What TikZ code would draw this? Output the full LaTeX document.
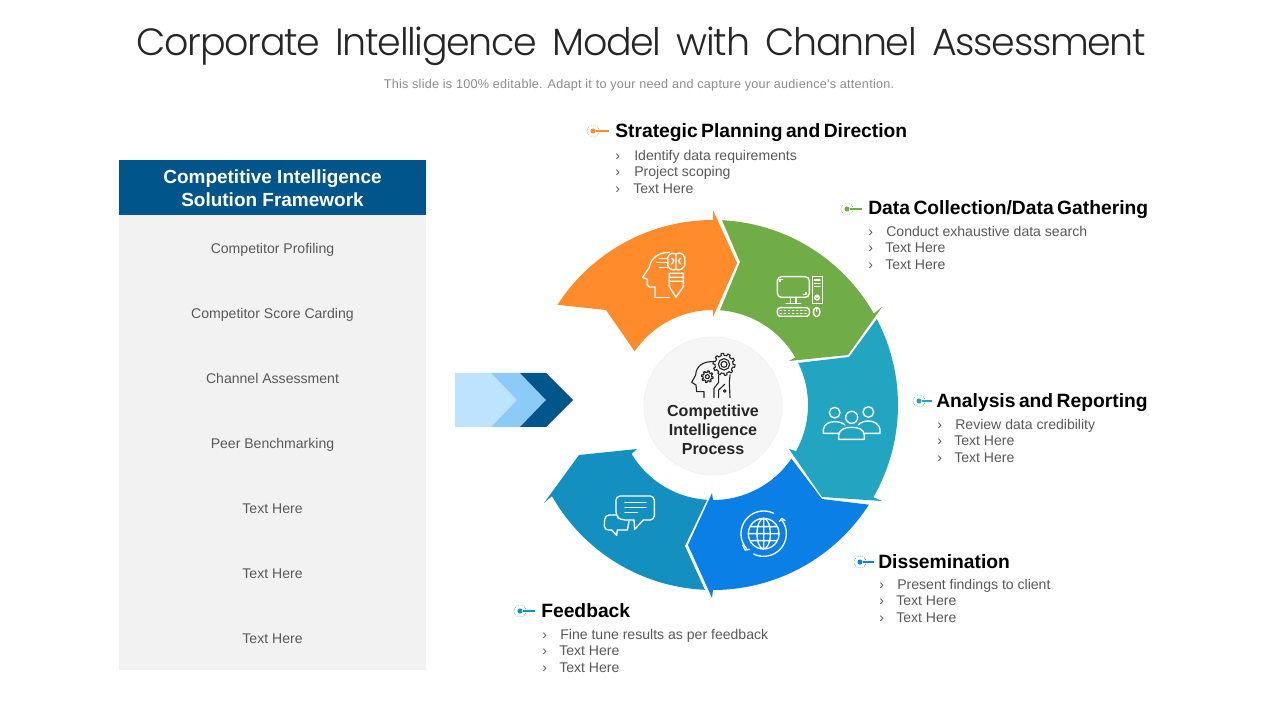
\documentclass[tikz,border=0pt]{standalone}
\usepackage{fontspec}
\usepackage{xcolor}
\usetikzlibrary{calc}
\setmainfont{Liberation Sans}
\newfontfamily\headfont{Poppins}[UprightFont=* Light,LetterSpace=-3.5,WordSpace=1.7]
\newfontfamily\subfont{Liberation Sans}[LetterSpace=1.9]
\newfontfamily\labfont{Liberation Sans}[WordSpace=0.65]
\definecolor{ink}{HTML}{262626}
\definecolor{muted}{HTML}{595959}
\definecolor{faint}{HTML}{8C8C8C}
\definecolor{navy}{HTML}{00558A}
\definecolor{panel}{HTML}{F2F2F2}
\definecolor{chevA}{HTML}{BDE3FF}
\definecolor{chevB}{HTML}{8CCBF8}
\definecolor{orangeseg}{HTML}{FF8B2B}
\definecolor{greenseg}{HTML}{70AD47}
\definecolor{tealseg}{HTML}{21A5C0}
\definecolor{blueseg}{HTML}{0A7FE6}
\definecolor{feedseg}{HTML}{1490C0}
\tikzset{
  lab/.style={anchor=base west, text=black, font=\fontsize{13.7}{16}\labfont\bfseries, inner sep=0pt},
  itm/.style={anchor=base west, text=muted, font=\fontsize{10}{12}\selectfont, inner sep=0pt},
  row/.style={anchor=base, text=muted, font=\fontsize{10}{12}\selectfont, inner sep=0pt},
  ico/.style={draw=white, line width=0.95pt, line cap=round, line join=round},
  icd/.style={draw=ink, line width=0.8pt, line cap=round, line join=round},
  dotc/.style={circle, minimum size=3.6pt, inner sep=0pt},
  ringc/.style={circle, densely dotted, line width=0.45pt, minimum size=8.5pt, inner sep=0pt},
}
\begin{document}
\begin{tikzpicture}[x=0.025cm,y=-0.025cm]
  \useasboundingbox (0,0) rectangle (1280,720);
  \def\Ro{185}
  \def\Ri{95}
  % heading
  \node[anchor=base, text=ink, font=\fontsize{27}{32}\headfont, inner sep=0pt] (title) at (641.5,56) {Corporate Intelligence Model with Channel Assessment};
  \node[text=faint, font=\fontsize{9}{10}\subfont, inner sep=0pt] (subtitle) at (639,85.5) {This slide is 100\% editable. Adapt it to your need and capture your audience's attention.};
  % left panel
  \fill[panel] (119,215) rectangle (426,670);
  \fill[navy] (119,160) rectangle (426,215);
  \node[text=white, align=center, font=\fontsize{13.5}{16.4}\selectfont\bfseries, inner sep=0pt] (frame) at (272.5,188.3) {Competitive Intelligence\\Solution Framework};
  \foreach \y/\t/\n in {253.6/Competitor Profiling/a,318.6/Competitor Score Carding/b,383.6/Channel Assessment/c,448.6/Peer Benchmarking/d,513.6/Text Here/e,578.6/Text Here/f,643.6/Text Here/g}
    \node[row] (row\n) at (272.5,\y) {\t};
  % chevrons
  \fill[chevA] (455,373) -- (491,373) -- (517,400) -- (491,427) -- (455,427) -- cycle;
  \fill[chevB] (491,373) -- (520,373) -- (546,400) -- (520,427) -- (491,427) -- (517,400) -- cycle;
  \fill[navy] (520,373) -- (546,373) -- (573,400) -- (546,427) -- (520,427) -- (546,400) -- cycle;
  % ring
  \fill[orangeseg] plot[domain=212.8:270,samples=40] ({713+\Ro*cos(\x)},{405+\Ro*sin(\x)}) -- (713,210) -- (737,263) -- (713,317) -- (713,310)
    -- plot[domain=270:214.4,samples=40] ({713+\Ri*cos(\x)},{405+\Ri*sin(\x)}) -- (606,310) -- cycle;
  \fill[greenseg] plot[domain=272.8:330.4,samples=40] ({713+\Ro*cos(\x)},{405+\Ro*sin(\x)}) -- (882,307) -- (848,355) -- (789,361)
    -- plot[domain=330:274.2,samples=40] ({713+\Ri*cos(\x)},{405+\Ri*sin(\x)}) -- (740,262) -- cycle;
  \fill[tealseg] plot[domain=-27.7:29.9,samples=40] ({713+\Ro*cos(\x)},{405+\Ro*sin(\x)}) -- (882,501) -- (822,497) -- (789,449)
    -- plot[domain=29:-26.3,samples=40] ({713+\Ri*cos(\x)},{405+\Ri*sin(\x)}) -- (849,357) -- cycle;
  \fill[blueseg] plot[domain=32.6:90,samples=40] ({713+\Ro*cos(\x)},{405+\Ro*sin(\x)}) -- (712,598) -- (688,545) -- (712,493)
    -- plot[domain=90:34.4,samples=40] ({713+\Ri*cos(\x)},{405+\Ri*sin(\x)}) -- (822,499) -- cycle;
  \fill[feedseg] plot[domain=92.5:150.5,samples=40] ({713+\Ro*cos(\x)},{405+\Ro*sin(\x)}) -- (544,503) -- (579,455) -- (637,449)
    -- plot[domain=149:93.6,samples=40] ({713+\Ri*cos(\x)},{405+\Ri*sin(\x)}) -- (685,546) -- cycle;
  % hub
  \draw[draw=black!5, fill=black!3.5, line width=0.6pt] (713,406) circle (69);
  \node[text=ink, align=center, font=\fontsize{11.4}{13.5}\selectfont\bfseries, inner sep=0pt] (hub) at (713,429.5) {Competitive\\Intelligence\\Process};
  % hub icon
  \begin{scope}[shift={(630,325)},scale=1/3]
    \draw[icd] (222,218) -- (222,200) -- (200,200) -- (198,180) -- (185,172) -- (197,150) .. controls (198,122) and (222,108) .. (252,110);
    \draw[icd] plot[domain=0:360,samples=129] ({232+(13+4.5*(sin(8*\x)>0))*cos(\x)},{155+(13+4.5*(sin(8*\x)>0))*sin(\x)}) -- cycle;
    \draw[icd] (232,155) circle (6);
    \draw[icd] plot[domain=0:360,samples=161] ({282+(27+6*(sin(10*\x)>0))*cos(\x)},{118+(27+6*(sin(10*\x)>0))*sin(\x)}) -- cycle;
    \draw[icd] (282,118) circle (17) (282,118) circle (9);
    \draw[icd] (266,150) -- (266,172) -- (252,190) -- (252,218) (300,150) -- (298,172) -- (300,218) (266,218) -- (266,195) -- (284,178) (284,198) circle (4);
  \end{scope}
  % orange icon
  \begin{scope}[shift={(530,190)},scale=1/3]
    \draw[ico] (375,322) -- (375,291) -- (358,291) -- (352,285) -- (352,268) -- (338,262) -- (358,232) .. controls (362,205) and (385,187) .. (418,187);
    \draw[ico] (375,322) -- (418,322);
    \draw[ico] (388,205) -- (412,205) (380,218) -- (412,218) (388,232) -- (412,232);
    \draw[ico] (438,192) .. controls (422,182) and (408,200) .. (414,215) .. controls (408,232) and (425,245) .. (438,238) .. controls (450,245) and (470,232) .. (464,215) .. controls (470,198) and (452,182) .. (438,192) -- cycle (438,192) -- (438,238);
    \draw[ico] (425,205) -- (432,212) -- (425,222) (452,205) -- (445,212) -- (452,222);
    \draw[ico] (418,250) -- (460,250) -- (460,290) -- (438,322) -- (418,290) -- cycle (418,262) -- (460,262) (418,274) -- (460,274);
  \end{scope}
  % green icon
  \begin{scope}[shift={(720,200)},scale=1/3]
    \draw[ico, rounded corners=3pt] (172,230) rectangle (268,292);
    \draw[ico] (180,245) -- (180,238) -- (188,238) (258,277) -- (258,284) -- (250,284);
    \draw[ico] (212,292) -- (212,308) (228,292) -- (228,308) (198,310) -- (242,310);
    \draw[ico] (277,230) rectangle (307,310);
    \draw[ico] (283,240) -- (300,240) (283,250) -- (300,250) (283,260) -- (300,260);
    \draw[ico] (291,293) circle (7) (291,284) -- (291,293);
    \draw[ico, rounded corners=2pt] (172,323) rectangle (268,349);
    \foreach \y in {331,341}
      \draw[ico, dotted] (180,\y) -- (260,\y);
    \draw[ico] (290,336) ellipse (10 and 14) (290,326) -- (290,334);
  \end{scope}
  % teal icon
  \begin{scope}[shift={(680,390)},scale=1/3]
    \draw[ico] (464,68) circle (16) (515,82) circle (18) (565,66) circle (16);
    \draw[ico] (476,148) -- (476,135) .. controls (478,118) and (495,112) .. (515,112) .. controls (535,112) and (552,118) .. (553,135) -- (553,148) -- cycle;
    \draw[ico] (478,130) -- (430,130) -- (430,118) .. controls (432,102) and (448,95) .. (464,95) .. controls (476,95) and (488,98) .. (495,105);
    \draw[ico] (553,130) -- (600,130) -- (600,118) .. controls (598,102) and (582,93) .. (565,93) .. controls (553,93) and (541,97) .. (535,105);
  \end{scope}
  % blue icon
  \begin{scope}[shift={(680,390)},scale=1/3]
    \draw[ico] (251,431) circle (46);
    \draw[ico] (251,431) ellipse (20 and 46) (251,385) -- (251,477) (205,431) -- (297,431) (211,410) -- (291,410) (211,452) -- (291,452);
    \draw[ico] plot[domain=-64:-220,samples=30] ({251+68*cos(\x)},{431+68*sin(\x)});
    \draw[ico] plot[domain=-37:116,samples=30] ({251+68*cos(\x)},{431+68*sin(\x)});
    \draw[ico] (298,395) -- (305,385) -- (315,392);
    \draw[ico] (188,465) -- (195,480) -- (208,478);
  \end{scope}
  % feedback icon
  \begin{scope}[shift={(530,430)},scale=1/3]
    \draw[ico, rounded corners=3pt] (312,270) -- (272,270) -- (258,258) -- (258,198) -- (373,198) -- (373,270) -- (340,270);
    \draw[ico] (340,270) -- (314,298) -- (312,270);
    \draw[ico] (285,218) -- (348,218) (285,233) -- (348,233) (285,248) -- (322,248);
    \draw[ico, rounded corners=3pt] (258,255) -- (225,255) -- (222,300) -- (245,300);
    \draw[ico] (245,300) -- (260,316) -- (262,300) -- (292,300) -- (297,274);
  \end{scope}
  % labels
  \foreach \mx/\my/\c/\n/\l in {
      593/131/orangeseg/s/16,
      847/209/greenseg/d/15,
      919/401/tealseg/a/13,
      860/562/blueseg/m/14,
      520/611/feedseg/f/15}{
    \node[ringc, draw=\c] (ring\n) at (\mx,\my) {};
    \node[dotc, fill=\c] (dot\n) at (\mx,\my) {};
    \coordinate (end\n) at ($(dot\n)+(\l,0)$);
    \draw[\c, line width=0.8pt] (dot\n) -- (end\n);
  }
  \node[lab] (labs) at (615,137.8) {Strategic Planning and Direction};
  \node[lab] (labd) at (868,215) {Data Collection/Data Gathering};
  \node[lab] (laba) at (936,407) {Analysis and Reporting};
  \node[lab] (labm) at (878,568) {Dissemination};
  \node[lab] (labf) at (541,617) {Feedback};
  % item lists
  \foreach \y/\t/\n/\o in {160.7/Identify data requirements/a/0,176.7/Project scoping/b/0,193.7/Text Here/c/1}{
    \node[itm] (mks\n) at (615,\y) {›};
    \node[itm] (its\n) at (634-\o,\y) {\t};
  }
  \foreach \y/\t/\n/\o in {236.7/Conduct exhaustive data search/a/0,252.7/Text Here/b/1,269.7/Text Here/c/1}{
    \node[itm] (mkd\n) at (868,\y) {›};
    \node[itm] (itd\n) at (886-\o,\y) {\t};
  }
  \foreach \y/\t/\n/\o in {429.7/Review data credibility/a/0,445.7/Text Here/b/1,462.7/Text Here/c/1}{
    \node[itm] (mka\n) at (937,\y) {›};
    \node[itm] (ita\n) at (955-\o,\y) {\t};
  }
  \foreach \y/\t/\n/\o in {589.7/Present findings to client/a/0,605.7/Text Here/b/1,622.7/Text Here/c/1}{
    \node[itm] (mkm\n) at (879,\y) {›};
    \node[itm] (itm\n) at (897-\o,\y) {\t};
  }
  \foreach \y/\t/\n/\o in {639.7/Fine tune results as per feedback/a/0,655.7/Text Here/b/1,672.7/Text Here/c/1}{
    \node[itm] (mkf\n) at (542,\y) {›};
    \node[itm] (itf\n) at (560-\o,\y) {\t};
  }
\end{tikzpicture}
\end{document}
